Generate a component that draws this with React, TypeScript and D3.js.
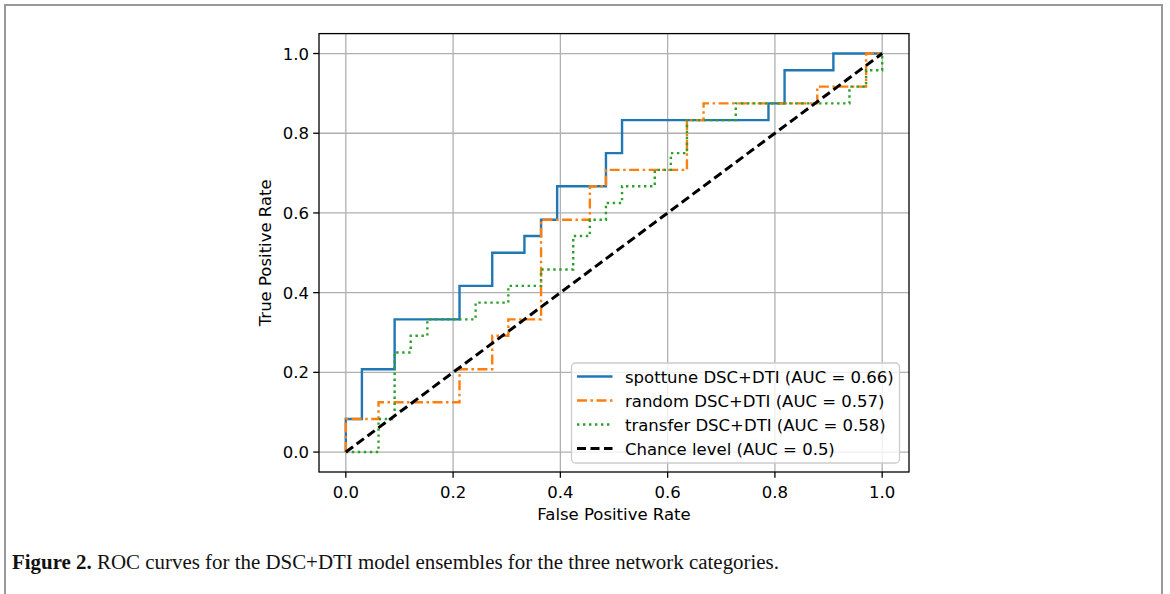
import React from "react";
import * as d3 from "d3";

// ROC vertices (fpr, tpr)
const spottuneFpr = [0, 0, 0.03, 0.03, 0.091, 0.091, 0.212, 0.212, 0.273, 0.273, 0.333, 0.333, 0.364, 0.364, 0.394, 0.394, 0.485, 0.485, 0.515, 0.515, 0.788, 0.788, 0.818, 0.818, 0.909, 0.909, 1.0];
const spottuneTpr = [0, 0.083, 0.083, 0.208, 0.208, 0.333, 0.333, 0.417, 0.417, 0.5, 0.5, 0.542, 0.542, 0.583, 0.583, 0.667, 0.667, 0.75, 0.75, 0.833, 0.833, 0.875, 0.875, 0.958, 0.958, 1.0, 1.0];

const randomFpr = [0, 0, 0.061, 0.061, 0.212, 0.212, 0.273, 0.273, 0.303, 0.303, 0.364, 0.364, 0.455, 0.455, 0.485, 0.485, 0.636, 0.636, 0.667, 0.667, 0.879, 0.879, 0.97, 0.97, 1.0];
const randomTpr = [0, 0.083, 0.083, 0.125, 0.125, 0.208, 0.208, 0.292, 0.292, 0.333, 0.333, 0.583, 0.583, 0.667, 0.667, 0.708, 0.708, 0.833, 0.833, 0.875, 0.875, 0.917, 0.917, 1.0, 1.0];

const transferFpr = [0, 0.061, 0.061, 0.091, 0.091, 0.121, 0.121, 0.152, 0.152, 0.242, 0.242, 0.303, 0.303, 0.364, 0.364, 0.424, 0.424, 0.455, 0.455, 0.485, 0.485, 0.515, 0.515, 0.576, 0.576, 0.606, 0.606, 0.636, 0.636, 0.727, 0.727, 0.939, 0.939, 0.97, 0.97, 1.0, 1.0];
const transferTpr = [0, 0, 0.083, 0.083, 0.25, 0.25, 0.292, 0.292, 0.333, 0.333, 0.375, 0.375, 0.417, 0.417, 0.458, 0.458, 0.542, 0.542, 0.583, 0.583, 0.625, 0.625, 0.667, 0.667, 0.708, 0.708, 0.75, 0.75, 0.833, 0.833, 0.875, 0.875, 0.917, 0.917, 0.958, 0.958, 1.0];

const chanceFpr = [0, 1];
const chanceTpr = [0, 1];

const seriesLabels = [
  "spottune DSC+DTI (AUC = 0.66)",
  "random DSC+DTI (AUC = 0.57)",
  "transfer DSC+DTI (AUC = 0.58)",
  "Chance level (AUC = 0.5)",
];
const tickValues = [0, 0.2, 0.4, 0.6, 0.8, 1.0];

const W = 1170;
const H = 594;
const left = 319, right = 909, top = 33.6, bottom = 472;
const FONT = "'DejaVu Sans', sans-serif";

const App = () => {
  const x = d3.scaleLinear().domain([-0.05, 1.05]).range([left, right]);
  const y = d3.scaleLinear().domain([-0.05, 1.05]).range([bottom, top]);

  const zip = (a: number[], b: number[]) => a.map((v, i) => [v, b[i]] as [number, number]);
  const line = d3.line<[number, number]>().x((d) => x(d[0])).y((d) => y(d[1]));

  const series = [
    { pts: zip(spottuneFpr, spottuneTpr), color: "#1f77b4", width: 2.4, dash: "none" },
    { pts: zip(randomFpr, randomTpr), color: "#ff7f0e", width: 2.4, dash: "10,3.5,2.5,3.5" },
    { pts: zip(transferFpr, transferTpr), color: "#2ca02c", width: 2.4, dash: "2.4,3.6" },
    { pts: zip(chanceFpr, chanceTpr), color: "#000000", width: 3, dash: "9,4.5" },
  ];

  const fmt = d3.format(".1f");
  const legX = 571.5, legY = 363, legW = 328, legH = 100;

  return (
    <div style={{ position: "absolute", left: 0, top: 0 }}>
      <svg width={W} height={H} style={{ display: "block", background: "#fff" }}>
        <rect x={5} y={5} width={1157} height={600} fill="none" stroke="#999" strokeWidth={2} />
        <defs>
          <clipPath id="plotclip">
            <rect x={left} y={top} width={right - left} height={bottom - top} />
          </clipPath>
        </defs>
        {/* grid */}
        {tickValues.map((t) => (
          <g key={"g" + t}>
            <line x1={x(t)} x2={x(t)} y1={top} y2={bottom} stroke="#b0b0b0" strokeWidth={1.3} />
            <line x1={left} x2={right} y1={y(t)} y2={y(t)} stroke="#b0b0b0" strokeWidth={1.3} />
          </g>
        ))}
        {/* curves */}
        <g clipPath="url(#plotclip)">
          {series.map((s, i) => (
            <path key={i} d={line(s.pts) || ""} fill="none" stroke={s.color} strokeWidth={s.width}
              strokeDasharray={s.dash} strokeLinejoin="miter" />
          ))}
        </g>
        {/* frame */}
        <rect x={left} y={top} width={right - left} height={bottom - top} fill="none" stroke="#000" strokeWidth={1.3} />
        {/* ticks */}
        {tickValues.map((t) => (
          <g key={"t" + t} fontFamily={FONT} fontSize={16.5} fill="#000">
            <line x1={x(t)} x2={x(t)} y1={bottom} y2={bottom + 5.8} stroke="#000" strokeWidth={1.3} />
            <text x={x(t)} y={bottom + 25.5} textAnchor="middle">{fmt(t)}</text>
            <line x1={left - 5.8} x2={left} y1={y(t)} y2={y(t)} stroke="#000" strokeWidth={1.3} />
            <text x={left - 10} y={y(t) + 6} textAnchor="end">{fmt(t)}</text>
          </g>
        ))}
        <text x={(left + right) / 2} y={520} textAnchor="middle" fontFamily={FONT} fontSize={16.5}>False Positive Rate</text>
        <text transform={`translate(271,${(top + bottom) / 2}) rotate(-90)`} textAnchor="middle" fontFamily={FONT} fontSize={16.5}>True Positive Rate</text>
        {/* legend */}
        <rect x={legX} y={legY} width={legW} height={legH} rx={4} fill="#fff" fillOpacity={0.8} stroke="#cccccc" strokeWidth={1.3} />
        {series.map((s, i) => {
          const cy = 376.5 + i * 24;
          return (
            <g key={"l" + i}>
              <line x1={577} x2={612.5} y1={cy} y2={cy} stroke={s.color} strokeWidth={s.width} strokeDasharray={s.dash} />
              <text x={625} y={cy + 6} fontFamily={FONT} fontSize={16.5} fill="#000">{seriesLabels[i]}</text>
            </g>
          );
        })}
        {/* caption */}
        <text x={12} y={569} fontFamily="'Liberation Serif', serif" fontSize={20} fill="#111" textLength={767} lengthAdjust="spacingAndGlyphs">
          <tspan fontWeight="bold">Figure 2.</tspan>
          <tspan> ROC curves for the DSC+DTI model ensembles for the three network categories.</tspan>
        </text>
      </svg>
    </div>
  );
};

export default App;
